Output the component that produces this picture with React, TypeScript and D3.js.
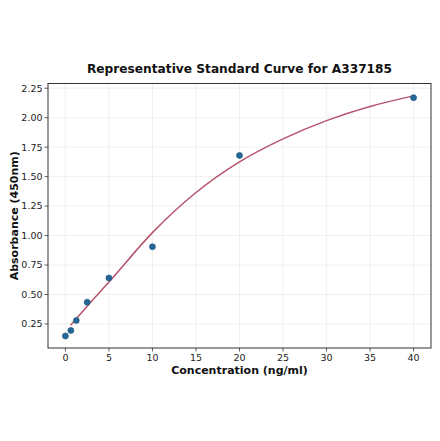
import * as d3 from 'd3'

// 측정 포인트
const conc = [0, 0.625, 1.25, 2.5, 5, 10, 20, 40]
const absorb = [0.148, 0.195, 0.28, 0.435, 0.64, 0.905, 1.68, 2.17]

// 피팅 곡선
const fitX = [0.6, 1.25, 2.5, 5, 10, 15, 20, 25, 30, 35, 40]
const fitY = [0.24, 0.295, 0.4, 0.605, 1.025, 1.365, 1.625, 1.82, 1.975, 2.095, 2.185]

const xTicks = [0, 5, 10, 15, 20, 25, 30, 35, 40]
const yTicks = [0.25, 0.5, 0.75, 1.0, 1.25, 1.5, 1.75, 2.0, 2.25]

const W = 440, H = 441
const margin = { left: 48, right: 9, top: 83.5, bottom: 93 }
const FONT = 'DejaVu Sans, sans-serif'

export default function App() {
  const x = d3.scaleLinear().domain([-2, 42]).range([margin.left, W - margin.right])
  const y = d3.scaleLinear().domain([0.046, 2.29]).range([H - margin.bottom, margin.top])
  const [x0, x1] = x.range()
  const [y0, y1] = y.range()

  const pts = fitX.map((v, i) => [v, fitY[i]] as [number, number])
  const line = d3.line<[number, number]>()
    .x(d => x(d[0])).y(d => y(d[1]))
    .curve(d3.curveMonotoneX)

  return (
    <svg width={W} height={H} style={{ position: 'absolute', left: 0, top: 0, background: '#fff' }} fontFamily={FONT}>
      {/* 그리드 */}
      {xTicks.map(t => (
        <line key={'gx' + t} x1={x(t)} x2={x(t)} y1={y1} y2={y0} stroke="#ececec" strokeWidth={0.8} />
      ))}
      {yTicks.map(t => (
        <line key={'gy' + t} x1={x0} x2={x1} y1={y(t)} y2={y(t)} stroke="#ececec" strokeWidth={0.8} />
      ))}

      {/* 곡선 */}
      <path d={line(pts) ?? ''} fill="none" stroke="#b5536b" strokeWidth={1.5} />

      {/* 포인트 */}
      {conc.map((c, i) => (
        <circle key={'p' + i} cx={x(c)} cy={y(absorb[i])} r={3} fill="#24689a" stroke="#1d4f75" strokeWidth={0.6} />
      ))}

      {/* 축 프레임 */}
      <rect x={x0} y={y1} width={x1 - x0} height={y0 - y1} fill="none" stroke="#333" strokeWidth={1} />

      {/* x축 눈금 */}
      {xTicks.map(t => (
        <g key={'xt' + t}>
          <line x1={x(t)} x2={x(t)} y1={y0} y2={y0 + 3.5} stroke="#333" strokeWidth={0.8} />
          <text x={x(t)} y={y0 + 13} textAnchor="middle" fontSize={9.5} fill="#222">{t}</text>
        </g>
      ))}

      {/* y축 눈금 */}
      {yTicks.map(t => (
        <g key={'yt' + t}>
          <line x1={x0 - 3.5} x2={x0} y1={y(t)} y2={y(t)} stroke="#333" strokeWidth={0.8} />
          <text x={x0 - 5.5} y={y(t) + 3.4} textAnchor="end" fontSize={9.5} fill="#222">{t.toFixed(2)}</text>
        </g>
      ))}

      {/* 제목, 축 라벨 */}
      <text x={(x0 + x1) / 2} y={72.5} textAnchor="middle" fontSize={12.2} fontWeight="bold" fill="#111">
        Representative Standard Curve for A337185
      </text>
      <text x={(x0 + x1) / 2} y={374} textAnchor="middle" fontSize={11} fontWeight="bold" fill="#111">
        Concentration (ng/ml)
      </text>
      <text transform={`translate(18,${(y0 + y1) / 2}) rotate(-90)`} textAnchor="middle" fontSize={11} fontWeight="bold" fill="#111">
        Absorbance (450nm)
      </text>
    </svg>
  )
}
